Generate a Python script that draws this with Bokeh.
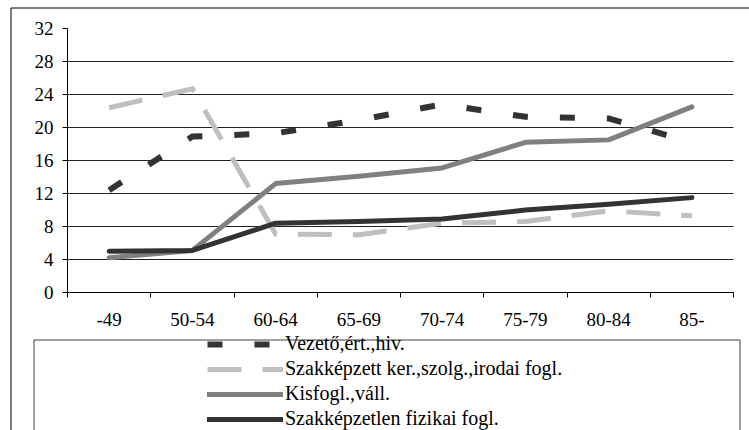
from bokeh.plotting import figure
from bokeh.models import (Range1d, LinearAxis, FixedTicker, Grid, Legend,
                          LegendItem, BoxAnnotation)
from bokeh.embed import file_html
from bokeh.resources import INLINE

# Age groups on the horizontal axis
categories = ["-49", "50-54", "60-64", "65-69", "70-74", "75-79", "80-84", "85-"]

# Share (%) per occupational group
vezeto = [12.4, 18.9, 19.3, 20.9, 22.8, 21.3, 21.1, 18.2]
szakkepzett = [22.4, 24.7, 7.1, 7.0, 8.4, 8.6, 9.9, 9.3]
kisfogl = [4.2, 5.1, 13.2, 14.1, 15.1, 18.2, 18.5, 22.5]
szakkepzetlen = [5.0, 5.1, 8.4, 8.6, 8.9, 10.0, 10.7, 11.5]

series_names = [
    "Vezető,ért.,hiv.",
    "Szakképzett ker.,szolg.,irodai fogl.",
    "Kisfogl.,váll.",
    "Szakképzetlen fizikai fogl.",
]

y_ticks = [0, 4, 8, 12, 16, 20, 24, 28, 32]

# Canvas and plot-area geometry (pixels)
W, H = 749, 430
AX_LEFT, AX_RIGHT, AX_TOP, AX_BOTTOM = 67, 733, 28, 292
FONT = "'Liberation Serif', serif"
TICK_FONT_SIZE = "19px"
LEGEND_FONT_SIZE = "20px"

n = len(categories)
y_max = y_ticks[-1]
px_per_x = (AX_RIGHT - AX_LEFT) / n
px_per_y = (AX_BOTTOM - AX_TOP) / y_max


def sx(px):
    """canvas x pixel -> data x"""
    return (px - AX_LEFT) / px_per_x


def sy(py):
    """canvas y pixel -> data y"""
    return (AX_BOTTOM - py) / px_per_y


p = figure(
    width=W, height=H,
    x_range=Range1d(sx(0), sx(W)),
    y_range=Range1d(sy(H), sy(0)),
    x_axis_type=None, y_axis_type=None,
    toolbar_location=None, output_backend="svg",
    min_border=0, min_border_left=0, min_border_right=0,
    min_border_top=0, min_border_bottom=0,
    outline_line_color=None,
    background_fill_color="white", border_fill_color="white",
)

# Horizontal gridlines across the plot area only
grid = Grid(dimension=1,
            ticker=FixedTicker(ticks=[t for t in y_ticks if 0 < t < y_max]),
            cross_bounds=(0, n),
            grid_line_color="#222222", grid_line_width=1)
p.add_layout(grid)

# Value axis
yaxis = LinearAxis(
    ticker=FixedTicker(ticks=y_ticks), fixed_location=0, bounds=(0, y_max),
    major_tick_in=0, major_tick_out=5, minor_tick_in=0, minor_tick_out=0,
    major_label_standoff=9,
    major_label_text_font=FONT, major_label_text_font_size=TICK_FONT_SIZE,
    major_label_text_color="black",
    axis_line_color="black", major_tick_line_color="black",
)
p.add_layout(yaxis, "left")

# Category axis: tick marks between categories
xaxis_ticks = LinearAxis(
    ticker=FixedTicker(ticks=list(range(n + 1))), fixed_location=0,
    bounds=(0, n), major_tick_in=0, major_tick_out=5,
    minor_tick_in=0, minor_tick_out=0,
    major_label_overrides={i: "" for i in range(n + 1)},
    axis_line_color="black", major_tick_line_color="black",
)
p.add_layout(xaxis_ticks, "below")

# Category axis: labels centred on each category
xs = [i + 0.5 for i in range(n)]
xaxis_labels = LinearAxis(
    ticker=FixedTicker(ticks=xs), fixed_location=0, bounds=(0, n),
    axis_line_color=None, major_tick_line_color=None,
    major_tick_in=0, major_tick_out=0, minor_tick_in=0, minor_tick_out=0,
    major_label_overrides={x: c for x, c in zip(xs, categories)},
    major_label_standoff=20,
    major_label_text_font=FONT, major_label_text_font_size=TICK_FONT_SIZE,
    major_label_text_color="black",
)
p.add_layout(xaxis_labels, "below")

# Series
r1 = p.line(xs, vezeto, line_color="#333333", line_width=6,
            line_dash="15 32", line_cap="butt", line_join="miter")
r2 = p.line(xs, szakkepzett, line_color="#bfbfbf", line_width=5,
            line_dash="34 21", line_cap="butt", line_join="miter")
r3 = p.line(xs, kisfogl, line_color="#808080", line_width=5,
            line_cap="round", line_join="round")
r4 = p.line(xs, szakkepzetlen, line_color="#333333", line_width=5,
            line_cap="round", line_join="round")

# Outer chart border and legend frame
p.add_layout(BoxAnnotation(left=sx(10.5), right=sx(W + 20), top=sy(7.5),
                           bottom=sy(H + 20), fill_color=None,
                           line_color="black", line_alpha=1, line_width=1))
p.add_layout(BoxAnnotation(left=sx(33.5), right=sx(739.5), top=sy(339.5),
                           bottom=sy(H + 20), fill_color=None,
                           line_color="#404040", line_alpha=1, line_width=1))

legend = Legend(
    items=[LegendItem(label=name, renderers=[r])
           for name, r in zip(series_names, [r1, r2, r3, r4])],
    location=(207, 0), orientation="vertical",
    padding=0, margin=0, spacing=2,
    glyph_width=76, glyph_height=20, label_height=20, label_standoff=2,
    label_text_font=FONT, label_text_font_size=LEGEND_FONT_SIZE,
    label_text_color="black",
    border_line_color=None, background_fill_alpha=0,
)
p.add_layout(legend)

open("out.html", "w").write(file_html(p, INLINE))
